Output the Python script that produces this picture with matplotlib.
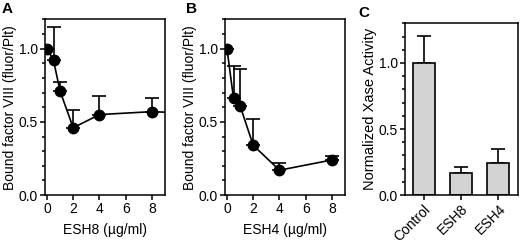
import numpy as np
from matplotlib import pyplot as plt
from matplotlib.ticker import MultipleLocator

plt.rcParams['font.family'] = ['Liberation Sans', 'DejaVu Sans']

# panel A: ESH8 dose
esh8_dose = [0, 0.5, 1, 2, 4, 8, 16]
esh8_bound = [1.0, 0.92, 0.71, 0.46, 0.55, 0.57, 0.54]
esh8_err = [0.0, 0.23, 0.06, 0.12, 0.13, 0.09, 0.0]

# panel B: ESH4 dose
esh4_dose = [0, 0.5, 1, 2, 4, 8]
esh4_bound = [1.0, 0.66, 0.61, 0.34, 0.17, 0.24]
esh4_err = [0.0, 0.22, 0.25, 0.18, 0.05, 0.03]

# panel C: Xase activity
groups = ["Control", "ESH8", "ESH4"]
xase = [1.0, 0.17, 0.246]
xase_err = [0.206, 0.043, 0.10]

fig = plt.figure(figsize=(5.2, 2.46), dpi=100)
lw = 1.1


def style(ax):
    for s in ax.spines.values():
        s.set_linewidth(lw)
    ax.tick_params(direction="out", width=lw, length=3.5, labelsize=10, pad=1.5)
    ax.tick_params(which="minor", direction="out", width=lw, length=2.5)
    ax.yaxis.set_major_locator(MultipleLocator(0.5))
    ax.yaxis.set_minor_locator(MultipleLocator(0.1))
    ax.yaxis.set_major_formatter(plt.FormatStrFormatter("%.1f"))


def dose_panel(rect, x, y, err, xlabel, letter, lx):
    ax = fig.add_axes(rect)
    ax.errorbar(x, y, yerr=[np.zeros(len(err)), err], fmt="-o", color="black",
                lw=1.2, ms=7.5, elinewidth=1.2, capsize=5, capthick=1.2)
    ax.set_xlim(-0.15, 9.0)
    ax.set_ylim(0, 1.2)
    ax.set_xticks([0, 2, 4, 6, 8])
    style(ax)
    ax.set_xlabel(xlabel, fontsize=10, labelpad=5)
    ax.set_ylabel("Bound factor VIII (fluor/Plt)", fontsize=10, labelpad=1)
    fig.text(lx, 0.99, letter, fontsize=11, fontweight="bold", va="top")
    return ax


dose_panel([0.0865, 0.207, 0.231, 0.714], esh8_dose, esh8_bound, esh8_err,
           "ESH8 (\u00b5g/ml)", "A", 0.004)
dose_panel([0.4327, 0.207, 0.231, 0.714], esh4_dose, esh4_bound, esh4_err,
           "ESH4 (\u00b5g/ml)", "B", 0.358)

ax = fig.add_axes([0.779, 0.207, 0.218, 0.698])
pos = np.arange(len(groups))
ax.bar(pos, xase, width=0.58, color="#d3d3d3", edgecolor="black", linewidth=1.2, zorder=2)
ax.errorbar(pos, xase, yerr=[np.zeros(len(xase)), xase_err], fmt="none", ecolor="black",
            elinewidth=1.2, capsize=5, capthick=1.2, zorder=1)
ax.set_xlim(-0.5, 2.54)
ax.set_ylim(0, 1.3)
style(ax)
ax.set_xticks(pos)
ax.set_xticklabels(groups, rotation=45, ha="right", rotation_mode="anchor", fontsize=10)
ax.set_ylabel("Normalized Xase Activity", fontsize=10.5, labelpad=1)
fig.text(0.69, 0.975, "C", fontsize=11, fontweight="bold", va="top")

fig.savefig("out.png", dpi=100)
